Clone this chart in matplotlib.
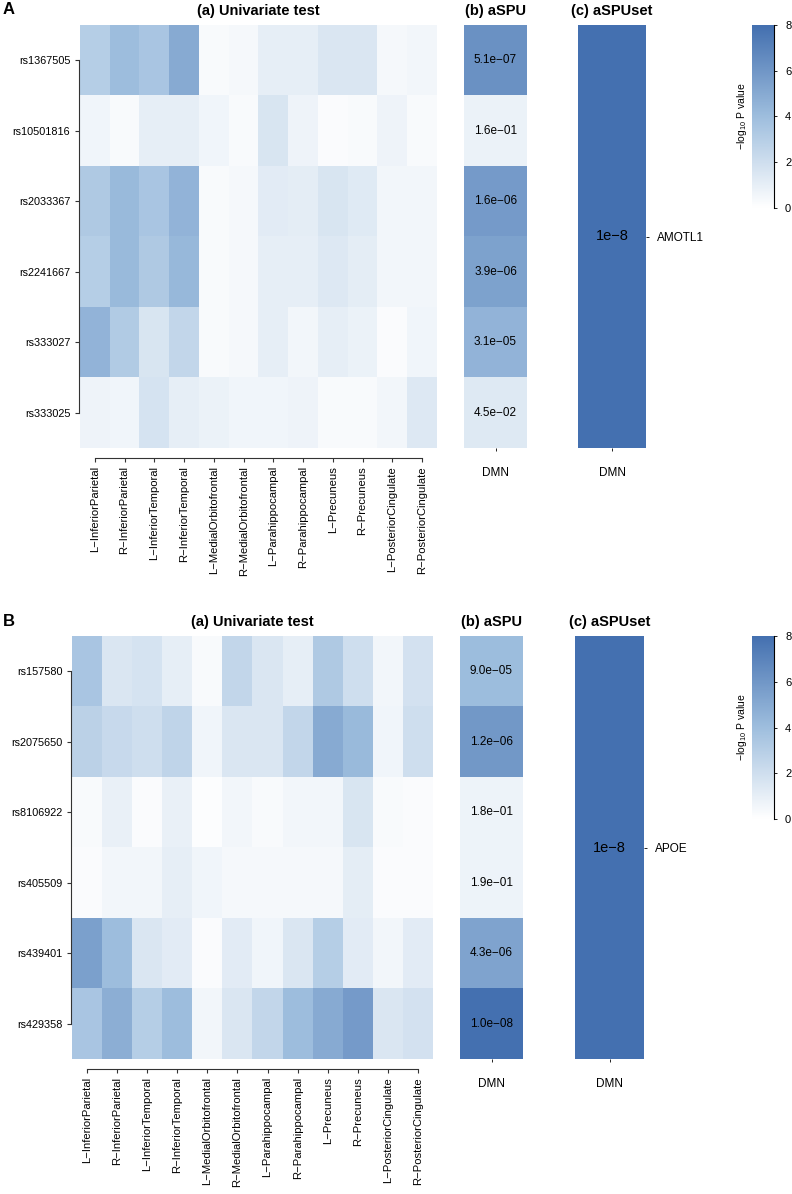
import numpy as np
import matplotlib
matplotlib.use("Agg")
import matplotlib.pyplot as plt
from matplotlib.colors import LinearSegmentedColormap

plt.rcParams['font.family'] = ['Liberation Sans', 'DejaVu Sans']
plt.rcParams['mathtext.default'] = 'regular'

# regions (columns of the univariate heatmap)
regions = ["L\u2212InferiorParietal", "R\u2212InferiorParietal",
           "L\u2212InferiorTemporal", "R\u2212InferiorTemporal",
           "L\u2212MedialOrbitofrontal", "R\u2212MedialOrbitofrontal",
           "L\u2212Parahippocampal", "R\u2212Parahippocampal",
           "L\u2212Precuneus", "R\u2212Precuneus",
           "L\u2212PosteriorCingulate", "R\u2212PosteriorCingulate"]

# panel A
snps_a = ["rs1367505", "rs10501816", "rs2033367", "rs2241667", "rs333027", "rs333025"]
uni_a = [
    [3.0, 4.0, 3.5, 5.0, 0.3, 0.4, 1.0, 1.0, 1.5, 1.5, 0.4, 0.5],
    [0.6, 0.3, 1.0, 1.0, 0.6, 0.3, 1.6, 0.7, 0.2, 0.3, 0.7, 0.3],
    [3.3, 4.2, 3.5, 4.5, 0.3, 0.4, 1.2, 1.1, 1.6, 1.3, 0.5, 0.5],
    [3.0, 4.2, 3.3, 4.3, 0.3, 0.4, 1.0, 1.0, 1.4, 1.1, 0.5, 0.5],
    [4.5, 3.2, 1.6, 2.5, 0.3, 0.4, 1.0, 0.5, 1.0, 0.8, 0.2, 0.6],
    [0.7, 0.6, 1.7, 1.0, 0.8, 0.6, 0.6, 0.7, 0.3, 0.3, 0.5, 1.4],
]
aspu_p_a = [5.1e-07, 1.6e-01, 1.6e-06, 3.9e-06, 3.1e-05, 4.5e-02]
gene_a = "AMOTL1"

# panel B
snps_b = ["rs157580", "rs2075650", "rs8106922", "rs405509", "rs439401", "rs429358"]
uni_b = [
    [3.5, 1.5, 1.7, 1.0, 0.3, 2.5, 1.5, 1.0, 3.3, 2.0, 0.5, 1.8],
    [2.8, 2.3, 2.0, 2.6, 0.6, 1.5, 1.5, 2.5, 5.0, 4.2, 0.6, 2.0],
    [0.3, 0.9, 0.2, 0.9, 0.1, 0.5, 0.3, 0.5, 0.5, 1.6, 0.3, 0.2],
    [0.2, 0.5, 0.5, 1.0, 0.6, 0.4, 0.4, 0.4, 0.4, 1.1, 0.2, 0.2],
    [5.5, 4.0, 1.5, 1.2, 0.2, 1.2, 0.6, 1.5, 3.0, 1.2, 0.5, 1.2],
    [3.5, 4.8, 3.0, 4.0, 0.5, 1.5, 2.5, 4.0, 5.0, 5.8, 1.5, 1.8],
]
aspu_p_b = [9.0e-05, 1.2e-06, 1.8e-01, 1.9e-01, 4.3e-06, 1.0e-08]
gene_b = "APOE"

aspuset_p = 1e-8
network = "DMN"

cmap = LinearSegmentedColormap.from_list("wb", ["#FFFFFF", "#9EBEDE", "#4470B0"])
VMAX = 8

W, H = 792, 1194
fig = plt.figure(figsize=(W / 100, H / 100), dpi=100)


def rect(l, t, r, b):
    return [l / W, 1 - b / H, (r - l) / W, (b - t) / H]


def fmt_p(p):
    return ("%.1e" % p).replace("-", "\u2212")


def draw_panel(letter, snps, uni, aspu_p, gene, top, heat_l, heat_r, aspu_l, aspu_r, set_l, set_r):
    bottom = top + 423
    # (a) univariate heatmap
    ax = fig.add_axes(rect(heat_l, top, heat_r, bottom))
    ax.imshow(np.array(uni), cmap=cmap, vmin=0, vmax=VMAX, aspect='auto')
    ax.set_xticks(range(len(regions)))
    ax.set_xticklabels(regions)
    ax.set_yticks(range(len(snps)))
    ax.set_yticklabels(snps)
    for s in ['top', 'right']:
        ax.spines[s].set_visible(False)
    ax.spines['left'].set_bounds(0, len(snps) - 1)
    ax.spines['left'].set_position(('outward', 1))
    ax.spines['bottom'].set_bounds(0, len(regions) - 1)
    ax.spines['bottom'].set_position(('outward', 7))
    for s in ['left', 'bottom']:
        ax.spines[s].set_linewidth(0.8)
        ax.spines[s].set_color('#333333')
    ax.tick_params(length=3, width=0.8, color='#333333', pad=3)
    ax.tick_params(axis='y', labelsize=7.8)
    ax.tick_params(axis='x', labelrotation=90, labelsize=8.1)
    ax.set_title("(a) Univariate test", fontsize=10.5, fontweight='bold', pad=7)

    # (b) aSPU column
    vals = -np.log10(np.array(aspu_p))
    ax2 = fig.add_axes(rect(aspu_l, top, aspu_r, bottom))
    ax2.imshow(vals.reshape(-1, 1), cmap=cmap, vmin=0, vmax=VMAX, aspect='auto')
    for i, p in enumerate(aspu_p):
        ax2.text(0, i, fmt_p(p), ha='center', va='center', fontsize=8.5)
    for s in ax2.spines.values():
        s.set_visible(False)
    ax2.set_yticks([])
    ax2.set_xticks([0])
    ax2.set_xticklabels([network])
    ax2.tick_params(axis='x', length=2, width=0.6, pad=12, labelsize=8.5)
    ax2.set_title("(b) aSPU", fontsize=10.5, fontweight='bold', pad=7)

    # (c) aSPUset column
    ax3 = fig.add_axes(rect(set_l, top, set_r, bottom))
    ax3.imshow(np.array([[-np.log10(aspuset_p)]]), cmap=cmap, vmin=0, vmax=VMAX, aspect='auto')
    ax3.text(0, 0, "1e\u22128", ha='center', va='center', fontsize=10.5)
    for s in ax3.spines.values():
        s.set_visible(False)
    ax3.set_xticks([0])
    ax3.set_xticklabels([network])
    ax3.tick_params(axis='x', length=2, width=0.6, pad=12, labelsize=8.5)
    ax3.yaxis.tick_right()
    ax3.set_yticks([0])
    ax3.set_yticklabels([gene])
    ax3.tick_params(axis='y', length=2, width=0.6, pad=6, labelsize=8.5)
    ax3.set_title("(c) aSPUset", fontsize=10.5, fontweight='bold', pad=7)

    # colour bar
    cax = fig.add_axes(rect(752, top, 774, top + 183))
    grad = np.linspace(0, VMAX, 200).reshape(-1, 1)
    cax.imshow(grad, cmap=cmap, vmin=0, vmax=VMAX, aspect='auto', origin='lower',
               extent=[0, 1, 0, VMAX])
    for s in ['left', 'top', 'bottom']:
        cax.spines[s].set_visible(False)
    cax.spines['right'].set_linewidth(0.8)
    cax.set_xticks([])
    cax.yaxis.tick_right()
    cax.set_yticks([0, 2, 4, 6, 8])
    cax.tick_params(axis='y', labelsize=8, length=2, width=0.6, pad=6)
    cax.set_ylabel("\u2212log$_{10}$ P value", fontsize=7.5, labelpad=2)
    cax.yaxis.set_label_position('left')

    fig.text(3 / W, 1 - (top - 15) / H, letter, fontsize=12, fontweight='bold', va='center', ha='left')


draw_panel("A", snps_a, uni_a, aspu_p_a, gene_a, 25, 80, 437, 464, 527, 578, 646)
draw_panel("B", snps_b, uni_b, aspu_p_b, gene_b, 636, 72, 433, 460, 523, 575, 644)

fig.savefig("out.png", dpi=100)
